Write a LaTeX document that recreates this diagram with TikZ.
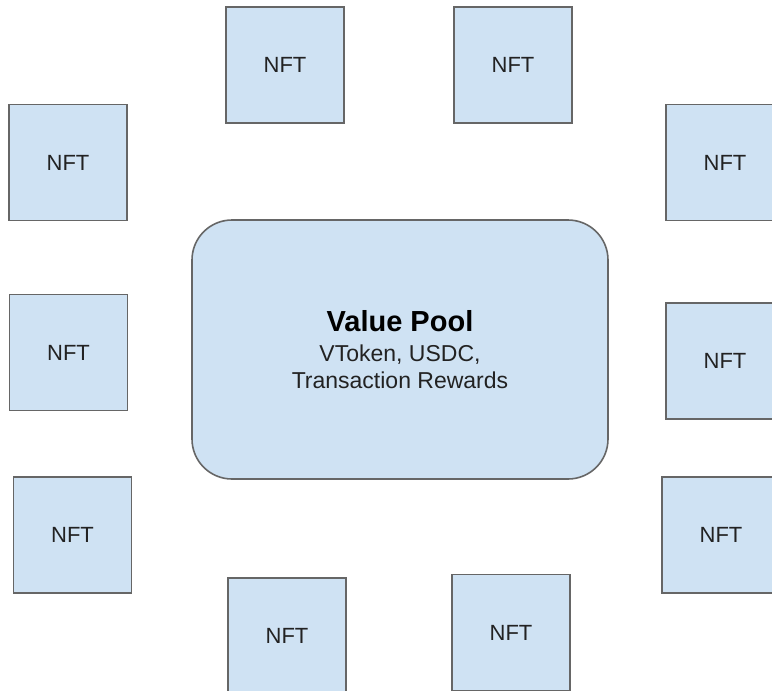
\documentclass[tikz,border=0pt]{standalone}
\usepackage{fontspec}
\setmainfont{Liberation Sans}
\definecolor{boxfill}{HTML}{CFE2F3}
\definecolor{boxline}{HTML}{666666}
\definecolor{txt}{HTML}{222222}
\tikzset{
  nftbox/.style={draw=boxline, fill=boxfill, line width=1.6pt, minimum width=118pt, minimum height=116pt, inner sep=0pt, text=txt, font=\fontsize{22}{26}\selectfont},
  poolbox/.style={draw=boxline, fill=boxfill, line width=1.6pt, rounded corners=40pt, minimum width=416pt, minimum height=259pt, inner sep=0pt, align=center, text=txt, font=\fontsize{23}{27}\selectfont}
}
\begin{document}
\begin{tikzpicture}[x=1pt,y=-1pt]
\useasboundingbox (0,0) rectangle (772,691);
\clip (0,0) rectangle (772,691);
\fill[white] (0,0) rectangle (772,691);
\node[poolbox] (pool) at (400,349.5) {{\fontsize{29}{30}\selectfont\bfseries\color{black}Value Pool}\\[3pt]VToken, USDC,\\Transaction Rewards};
\node[nftbox] (n1) at (285,65) {NFT};
\node[nftbox] (n2) at (513,65) {NFT};
\node[nftbox] (n3) at (68,162.5) {NFT};
\node[nftbox] (n4) at (725,162.5) {NFT};
\node[nftbox] (n5) at (68.5,352.5) {NFT};
\node[nftbox] (n6) at (725,361) {NFT};
\node[nftbox] (n7) at (72.5,535) {NFT};
\node[nftbox] (n8) at (721,535) {NFT};
\node[nftbox] (n9) at (287,636) {NFT};
\node[nftbox] (n10) at (511,632.5) {NFT};
\end{tikzpicture}
\end{document}
